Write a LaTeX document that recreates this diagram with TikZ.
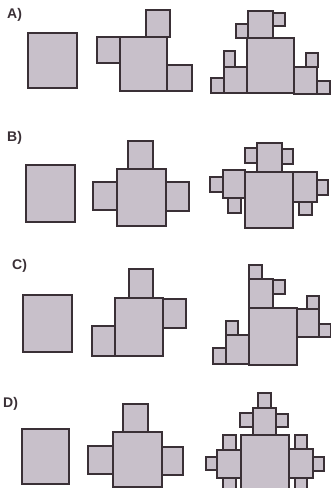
\documentclass[tikz,border=0pt]{standalone}
\usepackage{fontspec}
\setmainfont{Liberation Sans}
\usepackage{tikz}
\usetikzlibrary{positioning}

\definecolor{riempi}{RGB}{200,192,202}
\definecolor{bordo}{RGB}{58,48,54}

\begin{document}
\begin{tikzpicture}[x=1pt,y=-1pt,
    blocco/.style={fill=riempi,draw=bordo,line width=1.1pt,line join=miter},
    lettera/.style={anchor=west,inner sep=0pt,font=\bfseries\fontsize{14}{16}\selectfont,text=bordo}]
  \path[use as bounding box] (0,0) rectangle (331,488);
  \clip (0,0) rectangle (331,488);

  % riga A
  \node[lettera] (lblA) at (7,15) {A)};
  \draw[blocco] (28,33) rectangle (77,88);

  \draw[blocco] (120,37) rectangle (167,91);
  \draw[blocco] (146,10) rectangle (170,37);
  \draw[blocco] (97,37) rectangle (120,63);
  \draw[blocco] (167,65) rectangle (192,91);

  \draw[blocco] (247,38) rectangle (294,93);
  \draw[blocco] (248,11) rectangle (273,38);
  \draw[blocco] (273,13) rectangle (285,26);
  \draw[blocco] (236,24) rectangle (248,38);
  \draw[blocco] (224,67) rectangle (247,93);
  \draw[blocco] (224,51) rectangle (235,67);
  \draw[blocco] (211,78) rectangle (224,93);
  \draw[blocco] (294,67) rectangle (317,94);
  \draw[blocco] (306,53) rectangle (318,67);
  \draw[blocco] (317,81) rectangle (330,94);

  % riga B
  \node[lettera] (lblB) at (7,138) {B)};
  \draw[blocco] (26,165) rectangle (75,222);

  \draw[blocco] (117,169) rectangle (166,226);
  \draw[blocco] (128,141) rectangle (153,169);
  \draw[blocco] (93,182) rectangle (117,210);
  \draw[blocco] (166,182) rectangle (189,211);

  \draw[blocco] (245,172) rectangle (293,228);
  \draw[blocco] (257,143) rectangle (282,172);
  \draw[blocco] (245,148) rectangle (257,163);
  \draw[blocco] (282,149) rectangle (293,164);
  \draw[blocco] (223,170) rectangle (245,198);
  \draw[blocco] (210,177) rectangle (223,192);
  \draw[blocco] (228,198) rectangle (241,213);
  \draw[blocco] (293,172) rectangle (317,202);
  \draw[blocco] (317,180) rectangle (328,195);
  \draw[blocco] (299,202) rectangle (312,215);

  % riga C
  \node[lettera] (lblC) at (12,266) {C)};
  \draw[blocco] (23,295) rectangle (72,352);

  \draw[blocco] (115,298) rectangle (163,356);
  \draw[blocco] (129,269) rectangle (153,298);
  \draw[blocco] (163,299) rectangle (186,328);
  \draw[blocco] (92,326) rectangle (115,356);

  \draw[blocco] (249,308) rectangle (297,365);
  \draw[blocco] (249,279) rectangle (273,308);
  \draw[blocco] (249,265) rectangle (262,279);
  \draw[blocco] (273,280) rectangle (285,294);
  \draw[blocco] (297,309) rectangle (319,337);
  \draw[blocco] (307,296) rectangle (319,309);
  \draw[blocco] (319,324) rectangle (331,337);
  \draw[blocco] (226,335) rectangle (249,364);
  \draw[blocco] (226,321) rectangle (238,335);
  \draw[blocco] (213,348) rectangle (226,364);

  % riga D
  \node[lettera] (lblD) at (3,404) {D)};
  \draw[blocco] (22,429) rectangle (69,484);

  \draw[blocco] (113,432) rectangle (162,487);
  \draw[blocco] (123,404) rectangle (148,432);
  \draw[blocco] (88,446) rectangle (113,474);
  \draw[blocco] (162,447) rectangle (183,475);

  \draw[blocco] (241,435) rectangle (289,494);
  \draw[blocco] (253,408) rectangle (276,435);
  \draw[blocco] (258,393) rectangle (271,408);
  \draw[blocco] (240,413) rectangle (253,427);
  \draw[blocco] (276,414) rectangle (288,427);
  \draw[blocco] (217,450) rectangle (241,478);
  \draw[blocco] (206,457) rectangle (217,470);
  \draw[blocco] (223,435) rectangle (236,450);
  \draw[blocco] (223,478) rectangle (236,494);
  \draw[blocco] (289,449) rectangle (313,478);
  \draw[blocco] (313,457) rectangle (324,471);
  \draw[blocco] (295,435) rectangle (307,449);
  \draw[blocco] (295,478) rectangle (307,494);
\end{tikzpicture}
\end{document}
